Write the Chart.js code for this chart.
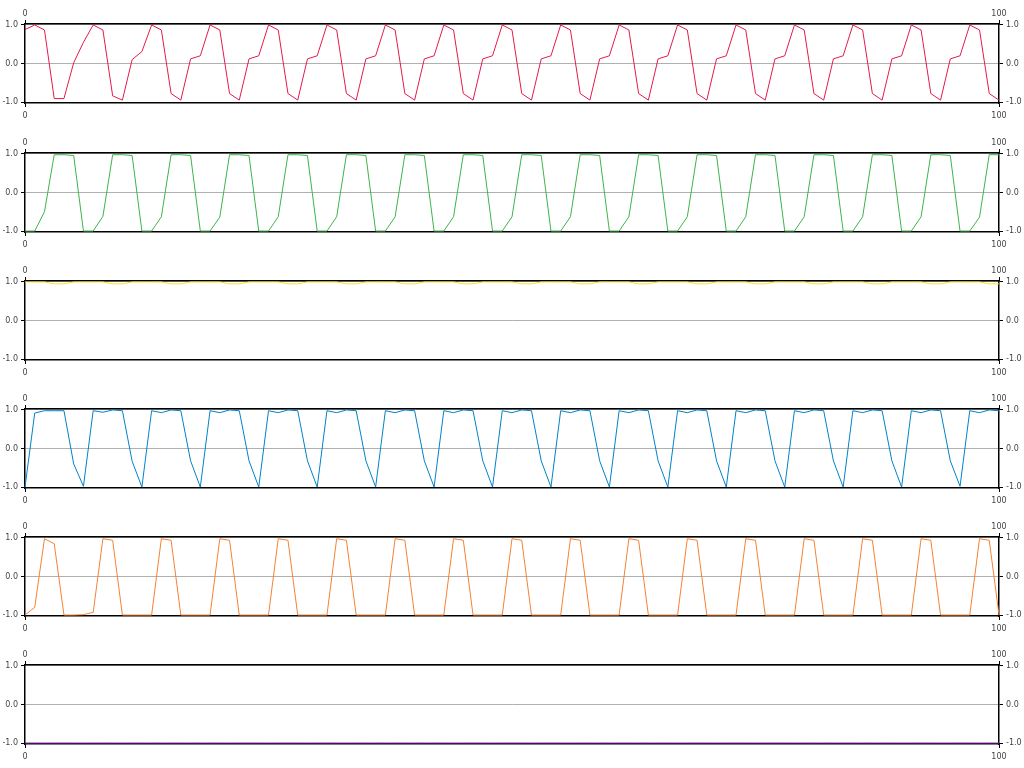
<!DOCTYPE html>
<html>
<head>
<meta charset="utf-8">
<script src="https://cdn.jsdelivr.net/npm/chart.js@4"></script>
<style>
  html, body { margin: 0; padding: 0; background: #fff; }
  body { width: 1024px; height: 768px; position: relative; overflow: hidden; }
  .panel { position: absolute; left: 0; width: 1024px; height: 128px; }
</style>
</head>
<body>
<div class="panel" style="top:0px"><canvas id="c0" width="1024" height="128"></canvas></div>
<div class="panel" style="top:129px"><canvas id="c1" width="1024" height="128"></canvas></div>
<div class="panel" style="top:257px"><canvas id="c2" width="1024" height="128"></canvas></div>
<div class="panel" style="top:385px"><canvas id="c3" width="1024" height="128"></canvas></div>
<div class="panel" style="top:513px"><canvas id="c4" width="1024" height="128"></canvas></div>
<div class="panel" style="top:641px"><canvas id="c5" width="1024" height="128"></canvas></div>
<script>
// x positions 0..100
const xValues = [0,1,2,3,4,5,6,7,8,9,10,11,12,13,14,15,16,17,18,19,20,21,22,23,24,25,26,27,28,29,30,31,32,33,34,35,36,37,38,39,40,41,42,43,44,45,46,47,48,49,50,51,52,53,54,55,56,57,58,59,60,61,62,63,64,65,66,67,68,69,70,71,72,73,74,75,76,77,78,79,80,81,82,83,84,85,86,87,88,89,90,91,92,93,94,95,96,97,98,99,100];

const xTickLabels = [0, 100];
const yTickLabels = [-1.0, 0.0, 1.0];

const seriesRed = [0.88,1.0,0.87,-0.91,-0.91,0.02,0.55,1.0,0.87,-0.84,-0.95,0.1,0.31,1.0,0.87,-0.78,-0.95,0.12,0.2,
  1.0,0.87,-0.78,-0.95,0.12,0.2, 1.0,0.87,-0.78,-0.95,0.12,0.2, 1.0,0.87,-0.78,-0.95,0.12,0.2,
  1.0,0.87,-0.78,-0.95,0.12,0.2, 1.0,0.87,-0.78,-0.95,0.12,0.2, 1.0,0.87,-0.78,-0.95,0.12,0.2,
  1.0,0.87,-0.78,-0.95,0.12,0.2, 1.0,0.87,-0.78,-0.95,0.12,0.2, 1.0,0.87,-0.78,-0.95,0.12,0.2,
  1.0,0.87,-0.78,-0.95,0.12,0.2, 1.0,0.87,-0.78,-0.95,0.12,0.2, 1.0,0.87,-0.78,-0.95,0.12,0.2,
  1.0,0.87,-0.78,-0.95,0.12,0.2,
  1.0,0.87,-0.78,-0.95];

const seriesGreen = [-1.0,-1.0,-0.5,0.98,0.98,0.96,
  -1.0,-1.0,-0.62,0.98,0.98,0.96, -1.0,-1.0,-0.63,0.98,0.98,0.96, -1.0,-1.0,-0.64,0.98,0.98,0.96,
  -1.0,-1.0,-0.63,0.98,0.98,0.96, -1.0,-1.0,-0.63,0.98,0.98,0.96, -1.0,-1.0,-0.63,0.98,0.98,0.96,
  -1.0,-1.0,-0.63,0.98,0.98,0.96, -1.0,-1.0,-0.63,0.98,0.98,0.96, -1.0,-1.0,-0.63,0.98,0.98,0.96,
  -1.0,-1.0,-0.63,0.98,0.98,0.96, -1.0,-1.0,-0.63,0.98,0.98,0.96, -1.0,-1.0,-0.63,0.98,0.98,0.96,
  -1.0,-1.0,-0.63,0.98,0.98,0.96, -1.0,-1.0,-0.63,0.98,0.98,0.96, -1.0,-1.0,-0.63,0.98,0.98,0.96,
  -1.0,-1.0,-0.64,0.98,0.98];

const seriesYellow = [1.0,1.0,1.0,0.95,0.95,1.0, 1.0,1.0,1.0,0.95,0.95,1.0, 1.0,1.0,1.0,0.95,0.95,1.0,
  1.0,1.0,1.0,0.95,0.95,1.0, 1.0,1.0,1.0,0.95,0.95,1.0, 1.0,1.0,1.0,0.95,0.95,1.0,
  1.0,1.0,1.0,0.95,0.95,1.0, 1.0,1.0,1.0,0.95,0.95,1.0, 1.0,1.0,1.0,0.95,0.95,1.0,
  1.0,1.0,1.0,0.95,0.95,1.0, 1.0,1.0,1.0,0.95,0.95,1.0, 1.0,1.0,1.0,0.95,0.95,1.0,
  1.0,1.0,1.0,0.95,0.95,1.0, 1.0,1.0,1.0,0.95,0.95,1.0, 1.0,1.0,1.0,0.95,0.95,1.0,
  1.0,1.0,1.0,0.95,0.95,1.0,
  1.0,1.0,1.0,0.95,0.95];

const seriesBlue = [-1.0,0.92,0.98,0.98,0.98,-0.4,-0.98,0.98,0.94,1.0,0.98,-0.33,-1.0,
  0.98,0.93,1.0,0.98,-0.32,-1.0, 0.98,0.93,1.0,0.98,-0.32,-1.0, 0.98,0.93,1.0,0.98,-0.32,-1.0,
  0.98,0.93,1.0,0.98,-0.32,-1.0, 0.98,0.93,1.0,0.98,-0.32,-1.0, 0.98,0.93,1.0,0.98,-0.32,-1.0,
  0.98,0.93,1.0,0.98,-0.32,-1.0, 0.98,0.93,1.0,0.98,-0.32,-1.0, 0.98,0.93,1.0,0.98,-0.32,-1.0,
  0.98,0.93,1.0,0.98,-0.32,-1.0, 0.98,0.93,1.0,0.98,-0.32,-1.0, 0.98,0.93,1.0,0.98,-0.32,-1.0,
  0.98,0.93,1.0,0.98,-0.32,-1.0, 0.98,0.93,1.0,0.98,-0.32,-0.98,
  0.98,0.93,1.0,0.98];

const seriesOrange = [-1.0,-0.8,0.98,0.85,-1.0,-1.0,-0.99,-0.93,0.98,0.94,-1.0,-1.0,-1.0,-1.0,0.98,0.94,
  -1.0,-1.0,-1.0,-1.0,0.98,0.94, -1.0,-1.0,-1.0,-1.0,0.98,0.94, -1.0,-1.0,-1.0,-1.0,0.98,0.94,
  -1.0,-1.0,-1.0,-1.0,0.98,0.94, -1.0,-1.0,-1.0,-1.0,0.98,0.94, -1.0,-1.0,-1.0,-1.0,0.98,0.94,
  -1.0,-1.0,-1.0,-1.0,0.98,0.94, -1.0,-1.0,-1.0,-1.0,0.98,0.94, -1.0,-1.0,-1.0,-1.0,0.98,0.94,
  -1.0,-1.0,-1.0,-1.0,0.98,0.94, -1.0,-1.0,-1.0,-1.0,0.98,0.94, -1.0,-1.0,-1.0,-1.0,0.98,0.94,
  -1.0,-1.0,-1.0,-1.0,0.98,0.94, -1.0,-1.0,-1.0,-1.0,0.98,0.94,
  -1.0];

const seriesPurple = [-1,-1,-1,-1,-1,-1,-1,-1,-1,-1,-1,-1,-1,-1,-1,-1,-1,-1,-1,-1,-1,-1,-1,-1,-1,-1,-1,-1,-1,-1,-1,-1,-1,-1,-1,-1,-1,-1,-1,-1,-1,-1,-1,-1,-1,-1,-1,-1,-1,-1,-1,-1,-1,-1,-1,-1,-1,-1,-1,-1,-1,-1,-1,-1,-1,-1,-1,-1,-1,-1,-1,-1,-1,-1,-1,-1,-1,-1,-1,-1,-1,-1,-1,-1,-1,-1,-1,-1,-1,-1,-1,-1,-1,-1,-1,-1,-1,-1,-1,-1,-1];

const panels = [
  { values: seriesRed,    color: '#e6194b' },
  { values: seriesGreen,  color: '#3cb44b' },
  { values: seriesYellow, color: '#ffe119' },
  { values: seriesBlue,   color: '#0082c8' },
  { values: seriesOrange, color: '#f58231' },
  { values: seriesPurple, color: '#911eb4' }
];

const tickFont = { family: 'DejaVu Sans', size: 8 };
const tickColor = '#444';

function xScale(pos) {
  return {
    type: 'linear', position: pos, min: 0, max: 100,
    afterBuildTicks: s => { s.ticks = xTickLabels.map(v => ({ value: v })); },
    ticks: { font: tickFont, color: tickColor, padding: pos === 'top' ? 1 : 4, maxRotation: 0, callback: v => String(v) },
    grid: { drawOnChartArea: false, tickLength: 4, color: '#000', tickColor: '#000', lineWidth: 1 },
    border: { display: true, color: '#000', width: 1.5 },
    afterFit: s => { s.height = pos === 'top' ? 24 : 25; }
  };
}
function yScale(pos, drawGrid) {
  return {
    type: 'linear', position: pos, min: -1.025, max: 1.025,
    afterBuildTicks: s => { s.ticks = yTickLabels.map(v => ({ value: v })); },
    ticks: { font: tickFont, color: tickColor, padding: 3, callback: v => Number(v).toFixed(1) },
    grid: { drawOnChartArea: drawGrid, tickLength: 4, color: '#b0b0b0', tickColor: '#000', lineWidth: 1 },
    border: { display: true, color: '#000', width: 1.5 },
    afterFit: s => { s.width = 25; }
  };
}

panels.forEach((p, i) => {
  const pts = xValues.map((x, k) => ({ x: x, y: p.values[k] }));
  new Chart(document.getElementById('c' + i), {
    type: 'line',
    data: {
      datasets: [{
        data: pts, borderColor: p.color, backgroundColor: p.color,
        borderWidth: 1, pointRadius: 0, tension: 0, fill: false,
        xAxisID: 'x', yAxisID: 'y', clip: false
      }]
    },
    options: {
      responsive: false, animation: false, devicePixelRatio: 1,
      layout: { padding: 0 },
      plugins: { legend: { display: false }, tooltip: { enabled: false } },
      scales: {
        x: xScale('bottom'),
        x2: xScale('top'),
        y: yScale('left', true),
        y2: yScale('right', false)
      }
    }
  });
});
</script>
</body>
</html>
